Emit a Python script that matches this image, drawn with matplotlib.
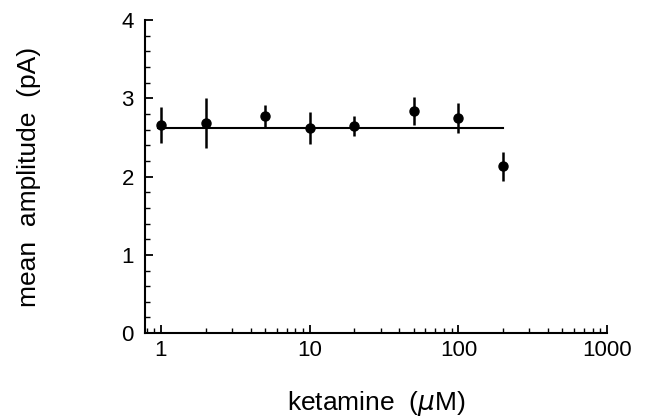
import numpy as np
import matplotlib.pyplot as plt
from matplotlib.ticker import LogLocator, MultipleLocator, NullFormatter, FixedLocator, FixedFormatter

plt.rcParams['font.family'] = ['Liberation Sans', 'DejaVu Sans']

# ketamine concentration (uM) and mean amplitude (pA)
conc = [1, 2, 5, 10, 20, 50, 100, 200]
amp = [2.66, 2.69, 2.77, 2.62, 2.65, 2.84, 2.75, 2.13]
err = [0.23, 0.32, 0.15, 0.20, 0.13, 0.18, 0.19, 0.18]

fit_x = [0.95, 200]
fit_y = [2.62, 2.62]

fig = plt.figure(figsize=(6.5, 4.18), dpi=100)
ax = fig.add_axes([0.223, 0.203, 0.711, 0.749])

ax.plot(fit_x, fit_y, color='black', lw=1.5)
ax.errorbar(conc, amp, yerr=err, fmt='o', color='black', ms=6.5, elinewidth=1.8, capsize=0)

ax.set_xscale('log')
ax.set_xlim(0.78, 1000)
ax.set_ylim(0, 4)

ax.xaxis.set_major_locator(FixedLocator([1, 10, 100, 1000]))
ax.xaxis.set_major_formatter(FixedFormatter(['1', '10', '100', '1000']))
ax.xaxis.set_minor_locator(LogLocator(base=10, subs=np.arange(2, 10)))
ax.xaxis.set_minor_formatter(NullFormatter())
ax.yaxis.set_major_locator(MultipleLocator(1))
ax.yaxis.set_minor_locator(MultipleLocator(0.2))

for s in ['top', 'right']:
    ax.spines[s].set_visible(False)
for s in ['left', 'bottom']:
    ax.spines[s].set_linewidth(1.5)

ax.tick_params(which='major', direction='in', length=6, width=1.3, labelsize=16)
ax.tick_params(axis='y', which='major', pad=8)
ax.tick_params(axis='x', which='major', pad=5)
ax.tick_params(which='minor', direction='in', length=3.5, width=1.0)

ax.set_xlabel('ketamine  ($\\mu$M)', fontsize=19, labelpad=20)
ax.set_ylabel('mean  amplitude  (pA)', fontsize=19, labelpad=58)

fig.savefig('out.png', dpi=100)
